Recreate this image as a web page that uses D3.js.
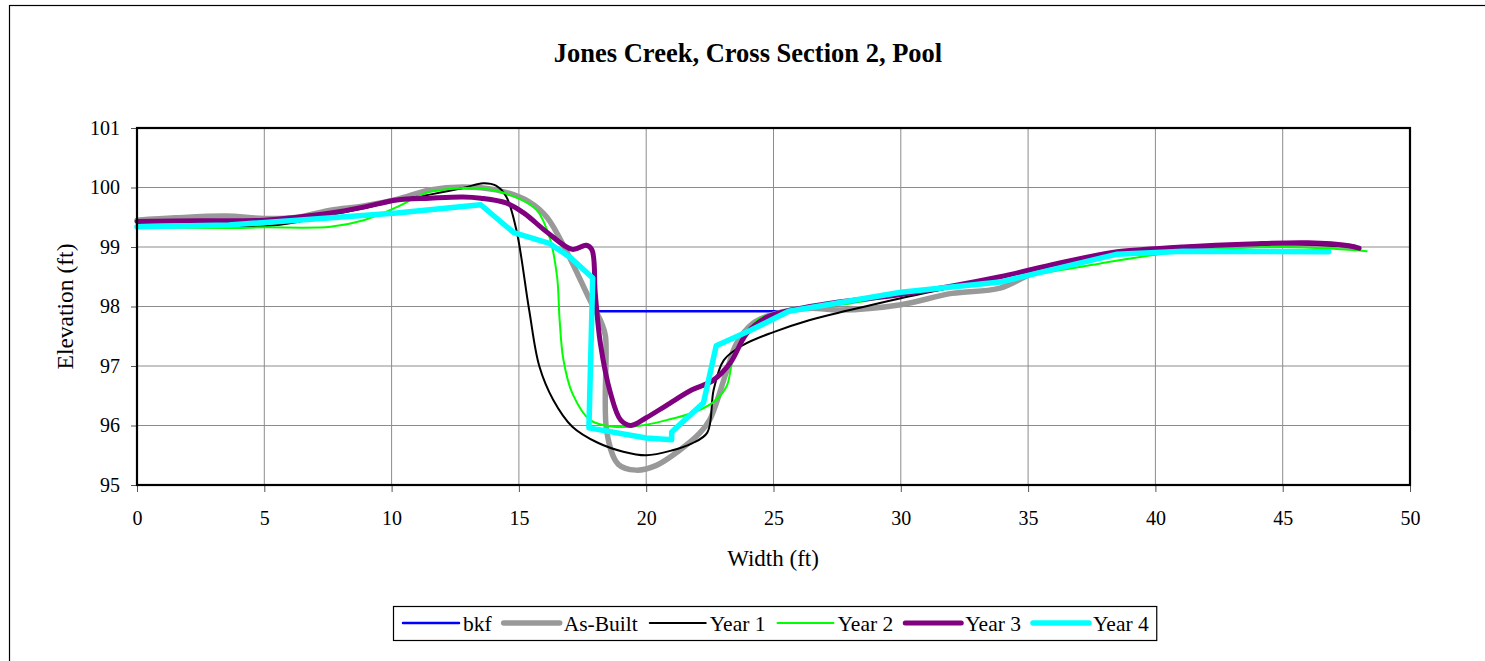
<!DOCTYPE html>
<html>
<head>
<meta charset="utf-8">
<script src="https://cdn.jsdelivr.net/npm/d3@7"></script>
<style>
  html, body { margin: 0; padding: 0; background: #fff; }
  svg { display: block; }
  text { font-family: "Liberation Serif", "Times New Roman", serif; fill: #000; }
</style>
</head>
<body>
<svg id="chart" width="1485" height="661"></svg>
<script>
// Cross-section survey data: [station (ft), elevation (ft)]
const bkf = [[18.0, 97.92], [25.6, 97.92]];

const asBuilt = [
  [0, 99.45], [1.5, 99.49], [3.5, 99.52], [5, 99.48], [6.3, 99.5], [7.6, 99.62],
  [8.9, 99.69], [10.2, 99.8], [11.5, 99.96], [12.8, 100.01], [14.1, 99.96],
  [15.4, 99.76], [16.1, 99.5], [16.9, 98.9], [17.8, 98.1], [18.25, 97.72],
  [18.4, 97.5], [18.45, 95.9], [18.9, 95.35], [19.6, 95.25], [20.4, 95.33],
  [21.3, 95.58], [22.1, 95.87], [22.5, 96.1], [23.15, 96.9], [23.55, 97.38],
  [24.2, 97.72], [25, 97.87], [26.4, 97.97], [27.6, 97.94], [30, 98.03],
  [32, 98.22], [33.9, 98.31], [35.2, 98.56], [37, 98.78], [38.5, 98.9],
  [40, 98.96], [43, 99.02], [46, 99.05], [47.8, 99.0]
];

const year1 = [
  [0, 99.35], [2.5, 99.34], [5, 99.35], [6.3, 99.42], [7.6, 99.54], [8.9, 99.65],
  [10.2, 99.79], [11.5, 99.88], [12.8, 99.99], [13.6, 100.07], [14.1, 100.03],
  [14.5, 99.85], [14.9, 99.29], [15.4, 97.95], [15.8, 97.0], [16.35, 96.43],
  [17.1, 95.98], [18.1, 95.71], [19.1, 95.56], [20, 95.5], [21, 95.58],
  [21.8, 95.7], [22.4, 95.88], [22.65, 96.6], [23.05, 97.1], [23.8, 97.35],
  [25, 97.57], [26.4, 97.77], [28, 97.94], [30, 98.14], [32, 98.32],
  [34, 98.5], [36, 98.7], [38, 98.88], [40, 98.98], [43, 99.03], [45, 99.05],
  [47.9, 99.0]
];

const year2 = [
  [0, 99.33], [3.7, 99.32], [5, 99.33], [7.6, 99.34], [8.9, 99.45], [10.2, 99.67],
  [10.8, 99.8], [11.5, 99.93], [12.8, 99.99], [13.5, 99.99], [14.8, 99.85],
  [15.7, 99.62], [16.2, 99.17], [16.5, 98.5], [16.6, 97.77], [16.75, 97.1],
  [17.1, 96.54], [17.8, 96.09], [18.7, 95.98], [19.8, 96.0], [20.8, 96.09],
  [21.8, 96.21], [22.6, 96.38], [23.15, 96.65], [23.4, 97.1], [23.8, 97.48],
  [24.35, 97.77], [25, 97.88], [26, 97.96], [28, 98.05], [30, 98.2],
  [32, 98.32], [34, 98.42], [35.2, 98.53], [37.8, 98.72], [40, 98.87],
  [42, 98.95], [45, 99.0], [47, 98.97], [48.3, 98.93]
];

const year3 = [
  [0, 99.43], [2.5, 99.44], [5, 99.45], [6.3, 99.5], [7.6, 99.57], [8.9, 99.67],
  [10.2, 99.79], [11.5, 99.82], [12.8, 99.84], [13.5, 99.82], [14.5, 99.74],
  [15.2, 99.57], [16.1, 99.25], [17.1, 98.96], [17.65, 99.03], [17.87, 98.95],
  [18.0, 98.22], [18.2, 97.38], [18.6, 96.54], [19.0, 96.09], [19.4, 96.0],
  [20, 96.13], [20.8, 96.34], [21.8, 96.6], [22.6, 96.75], [23.3, 97.05],
  [23.95, 97.55], [24.7, 97.81], [25.3, 97.9], [27.5, 98.07], [30, 98.2],
  [33.9, 98.5], [35.9, 98.7], [37.8, 98.87], [38.5, 98.92], [41.1, 99.0],
  [43.7, 99.05], [46, 99.07], [47.6, 99.02], [48, 98.98]
];

const year4 = [
  [0, 99.34], [3.6, 99.37], [6.3, 99.45], [10.2, 99.57], [13.5, 99.71],
  [14.8, 99.24], [16.2, 99.06], [17.0, 98.83], [17.9, 98.48], [17.75, 95.96],
  [20.0, 95.79], [21.0, 95.76], [21.0, 95.89], [22.25, 96.38], [22.75, 97.34],
  [24.1, 97.6], [25.6, 97.92], [30, 98.24], [33.9, 98.41], [37.8, 98.81],
  [38.5, 98.88], [41.1, 98.93], [46.8, 98.92]
];

const xTicks = [0, 5, 10, 15, 20, 25, 30, 35, 40, 45, 50];
const yTicks = [95, 96, 97, 98, 99, 100, 101];

const seriesNames = ["bkf", "As-Built", "Year 1", "Year 2", "Year 3", "Year 4"];
const seriesData = [bkf, asBuilt, year1, year2, year3, year4];

// Drawing styles for each series
const styles = [
  { color: "#0000FF", width: 2.5, smooth: false },
  { color: "#999999", width: 5.5, smooth: true },
  { color: "#000000", width: 2, smooth: true },
  { color: "#00FF00", width: 2, smooth: true },
  { color: "#800080", width: 5, smooth: true },
  { color: "#00FFFF", width: 5.5, smooth: false }
];

const svg = d3.select("#chart");

// Outer chart-area border
svg.append("rect")
  .attr("x", 9.5).attr("y", 5.5)
  .attr("width", 1600).attr("height", 800)
  .attr("fill", "none").attr("stroke", "#000").attr("stroke-width", 1.2);

const plot = { left: 137, right: 1410, top: 128, bottom: 485 };

const x = d3.scaleLinear().domain([0, 50]).range([plot.left, plot.right]);
const y = d3.scaleLinear().domain([95, 101]).range([plot.bottom, plot.top]);

// Gridlines
const grid = svg.append("g");
grid.selectAll("line.v").data(xTicks.slice(1, -1)).join("line")
  .attr("x1", d => x(d)).attr("x2", d => x(d))
  .attr("y1", plot.top).attr("y2", plot.bottom)
  .attr("stroke", "#8c8c8c").attr("stroke-width", 1);
grid.selectAll("line.h").data(yTicks.slice(1, -1)).join("line")
  .attr("x1", plot.left).attr("x2", plot.right)
  .attr("y1", d => y(d)).attr("y2", d => y(d))
  .attr("stroke", "#8c8c8c").attr("stroke-width", 1);

// Axes
const xAxis = svg.append("g")
  .attr("transform", `translate(0,${plot.bottom})`)
  .call(d3.axisBottom(x).tickValues(xTicks).tickFormat(d3.format("d"))
    .tickSize(7).tickSizeOuter(0).tickPadding(19));
const yAxis = svg.append("g")
  .attr("transform", `translate(${plot.left},0)`)
  .call(d3.axisLeft(y).tickValues(yTicks).tickFormat(d3.format("d"))
    .tickSize(6).tickSizeOuter(0).tickPadding(11));
[xAxis, yAxis].forEach(ax => {
  ax.select(".domain").remove();
  ax.selectAll(".tick line").attr("stroke", "#555");
  ax.selectAll(".tick text")
    .style("font-family", '"Liberation Serif", serif')
    .style("font-size", "20px").attr("fill", "#000");
});

// Series lines
const lineSmooth = d3.line().x(d => x(d[0])).y(d => y(d[1])).curve(d3.curveCatmullRom.alpha(0.5));
const lineStraight = d3.line().x(d => x(d[0])).y(d => y(d[1]));

seriesData.forEach((data, i) => {
  const st = styles[i];
  svg.append("path")
    .datum(data)
    .attr("d", st.smooth ? lineSmooth : lineStraight)
    .attr("fill", "none")
    .attr("stroke", st.color)
    .attr("stroke-width", st.width)
    .attr("stroke-linejoin", "round")
    .attr("stroke-linecap", "round");
});

// Plot frame
svg.append("rect")
  .attr("x", plot.left).attr("y", plot.top)
  .attr("width", plot.right - plot.left).attr("height", plot.bottom - plot.top)
  .attr("fill", "none").attr("stroke", "#000").attr("stroke-width", 2.2);

// Title and axis titles
svg.append("text")
  .attr("x", 748).attr("y", 62)
  .attr("text-anchor", "middle")
  .style("font-size", "26.5px").style("font-weight", "bold")
  .text("Jones Creek, Cross Section 2, Pool");

svg.append("text")
  .attr("x", 773).attr("y", 566)
  .attr("text-anchor", "middle")
  .style("font-size", "23px")
  .text("Width (ft)");

svg.append("text")
  .attr("transform", `translate(73,${(plot.top + plot.bottom) / 2}) rotate(-90)`)
  .attr("text-anchor", "middle")
  .style("font-size", "23.5px")
  .text("Elevation (ft)");

// Legend
const legend = svg.append("g");
const legendBox = legend.append("rect")
  .attr("y", 606.5).attr("height", 34)
  .attr("fill", "#fff").attr("stroke", "#000").attr("stroke-width", 1.2);

let cx = 403;
const legendY = 623;
seriesNames.forEach((name, i) => {
  const st = styles[i];
  legend.append("line")
    .attr("x1", cx).attr("x2", cx + 56)
    .attr("y1", legendY).attr("y2", legendY)
    .attr("stroke", st.color).attr("stroke-width", st.width)
    .attr("stroke-linecap", "round");
  const t = legend.append("text")
    .attr("x", cx + 60).attr("y", legendY + 7.5)
    .style("font-size", "21.5px")
    .text(name);
  cx += 60 + t.node().getComputedTextLength() + 12;
});
legendBox.attr("x", 393.5).attr("width", cx - 393.5 - 4);
</script>
</body>
</html>
